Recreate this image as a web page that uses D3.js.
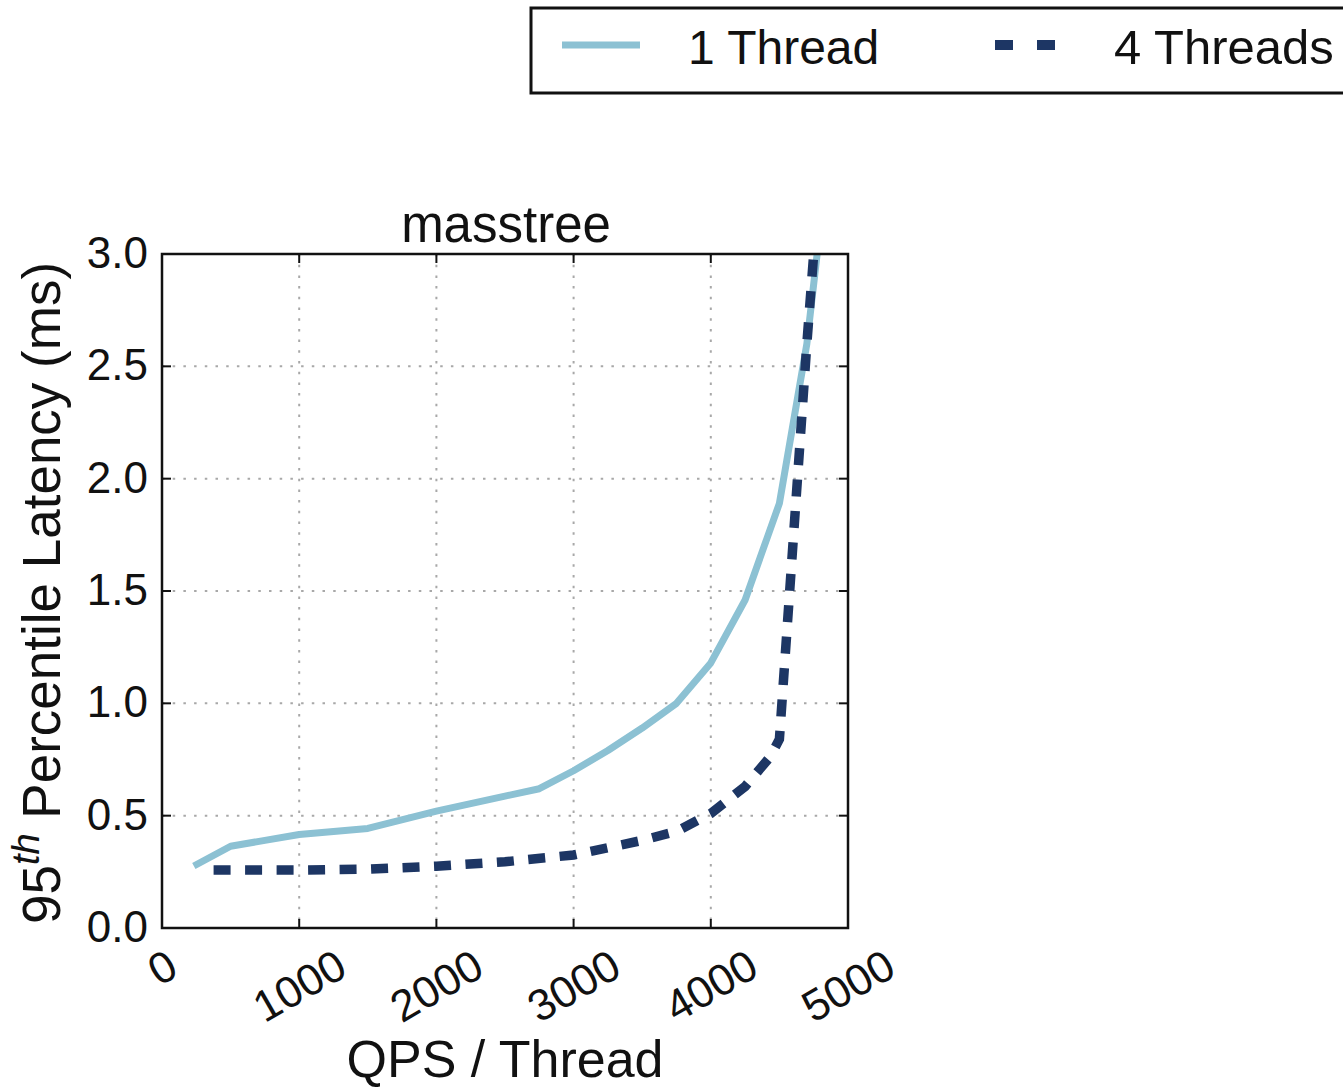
<!DOCTYPE html>
<html>
<head>
<meta charset="utf-8">
<script src="https://cdn.jsdelivr.net/npm/d3@7"></script>
<style>
  html, body { margin: 0; padding: 0; background: #fff; }
  svg { display: block; font-family: "Liberation Sans", Arial, Helvetica, sans-serif; }
</style>
</head>
<body>
<svg id="chart" width="1343" height="1089"></svg>
<script>
// Offered load per thread (QPS) and the 95th percentile latency (ms) it produced
const oneThreadQps     = [232, 500, 750, 1000, 1500, 2000, 2500, 2750, 3000, 3250, 3500, 3750, 4000, 4250, 4500, 4700, 4775];
const oneThreadLatency = [0.276, 0.364, 0.39, 0.416, 0.443, 0.52, 0.587, 0.62, 0.70, 0.79, 0.89, 1.0, 1.18, 1.46, 1.89, 2.6, 3.0];

const fourThreadQps     = [376, 500, 1000, 1500, 2000, 2500, 3000, 3500, 3750, 4000, 4250, 4430, 4500, 4700, 4750];
const fourThreadLatency = [0.258, 0.258, 0.258, 0.262, 0.275, 0.295, 0.325, 0.39, 0.43, 0.51, 0.63, 0.76, 0.84, 2.6, 3.0];

const xTicks = [0, 1000, 2000, 3000, 4000, 5000];
const yTicks = [0.0, 0.5, 1.0, 1.5, 2.0, 2.5, 3.0];

const seriesNames = ["1 Thread", "4 Threads"];
const chartTitle = "masstree";
const xTitle = "QPS / Thread";

const lightBlue = "#8cc1d3";
const navy = "#1d3664";

const svg = d3.select("#chart");
const plot = { left: 162, top: 254, right: 848, bottom: 928 };

const x = d3.scaleLinear().domain([0, 5000]).range([plot.left, plot.right]);
const y = d3.scaleLinear().domain([0, 3.0]).range([plot.bottom, plot.top]);

// clip lines to the axes box
svg.append("defs").append("clipPath").attr("id", "plotClip")
  .append("rect")
  .attr("x", plot.left).attr("y", plot.top)
  .attr("width", plot.right - plot.left).attr("height", plot.bottom - plot.top);

// dotted grid
const grid = svg.append("g").attr("stroke", "#a8a8a8").attr("stroke-width", 2)
  .attr("stroke-dasharray", "2.5,8.2");
grid.selectAll(".gx").data(xTicks.slice(1, -1)).join("line")
  .attr("x1", d => x(d)).attr("x2", d => x(d))
  .attr("y1", plot.top).attr("y2", plot.bottom);
grid.selectAll(".gy").data(yTicks.slice(1, -1)).join("line")
  .attr("y1", d => y(d)).attr("y2", d => y(d))
  .attr("x1", plot.left).attr("x2", plot.right);

// series lines
const line = d3.line().x(d => x(d[0])).y(d => y(d[1]));
const oneThread = oneThreadQps.map((q, i) => [q, oneThreadLatency[i]]);
const fourThreads = fourThreadQps.map((q, i) => [q, fourThreadLatency[i]]);

const lines = svg.append("g").attr("clip-path", "url(#plotClip)").attr("fill", "none");
lines.append("path").datum(oneThread).attr("d", line)
  .attr("stroke", lightBlue).attr("stroke-width", 7).attr("stroke-linejoin", "round");
lines.append("path").datum(fourThreads).attr("d", line)
  .attr("stroke", navy).attr("stroke-width", 9.5).attr("stroke-dasharray", "17,14.5");

// inward ticks on all four sides
const ticks = svg.append("g").attr("stroke", "#111").attr("stroke-width", 2);
const tl = 9;
xTicks.forEach(t => {
  ticks.append("line").attr("x1", x(t)).attr("x2", x(t)).attr("y1", plot.bottom).attr("y2", plot.bottom - tl);
  ticks.append("line").attr("x1", x(t)).attr("x2", x(t)).attr("y1", plot.top).attr("y2", plot.top + tl);
});
yTicks.forEach(t => {
  ticks.append("line").attr("y1", y(t)).attr("y2", y(t)).attr("x1", plot.left).attr("x2", plot.left + tl);
  ticks.append("line").attr("y1", y(t)).attr("y2", y(t)).attr("x1", plot.right).attr("x2", plot.right - tl);
});

// axes frame
svg.append("rect")
  .attr("x", plot.left).attr("y", plot.top)
  .attr("width", plot.right - plot.left).attr("height", plot.bottom - plot.top)
  .attr("fill", "none").attr("stroke", "#111").attr("stroke-width", 2.5);

// y tick labels
const tickFont = 44;
svg.append("g").selectAll("text").data(yTicks).join("text")
  .attr("x", plot.left - 14).attr("y", d => y(d) + 14)
  .attr("text-anchor", "end").attr("font-size", tickFont).attr("fill", "#111")
  .text(d => d3.format(".1f")(d));

// x tick labels rotated 30 degrees, rotated box hanging below the axis
const angle = 30 * Math.PI / 180;
const xLabelTop = plot.bottom + 15;
const xl = svg.append("g");
xTicks.forEach(t => {
  const g = xl.append("g");
  const txt = g.append("text").attr("text-anchor", "middle").attr("dominant-baseline", "central")
    .attr("font-size", tickFont).attr("fill", "#111").text(String(t));
  const w = txt.node().getComputedTextLength();
  const h = tickFont * 0.95;
  const boxH = w * Math.sin(angle) + h * Math.cos(angle);
  g.attr("transform", `translate(${x(t)},${xLabelTop + boxH / 2}) rotate(-30)`);
});

// title and axis titles
svg.append("text").attr("x", (plot.left + plot.right) / 2 + 1).attr("y", 242)
  .attr("text-anchor", "middle").attr("font-size", 51).attr("fill", "#111").text(chartTitle);

svg.append("text").attr("x", (plot.left + plot.right) / 2).attr("y", 1077)
  .attr("text-anchor", "middle").attr("font-size", 52).attr("fill", "#111").text(xTitle);

const yTitle = svg.append("text")
  .attr("transform", `translate(60,${(plot.top + plot.bottom) / 2 + 2}) rotate(-90)`)
  .attr("text-anchor", "middle").attr("font-size", 53).attr("fill", "#111");
yTitle.append("tspan").text("95");
yTitle.append("tspan").attr("font-size", 38).attr("font-style", "italic").attr("dy", -21).text("th");
yTitle.append("tspan").attr("dy", 21).text(" Percentile Latency (ms)");

// legend
const legend = svg.append("g");
legend.append("rect").attr("x", 531).attr("y", 8).attr("width", 900).attr("height", 85)
  .attr("fill", "#fff").attr("stroke", "#111").attr("stroke-width", 3);
legend.append("line").attr("x1", 562).attr("x2", 640).attr("y1", 45).attr("y2", 45)
  .attr("stroke", lightBlue).attr("stroke-width", 7);
legend.append("text").attr("x", 688).attr("y", 64).attr("font-size", 48).attr("fill", "#111").text(seriesNames[0]);
legend.append("line").attr("x1", 995).attr("x2", 1056).attr("y1", 45).attr("y2", 45)
  .attr("stroke", navy).attr("stroke-width", 10).attr("stroke-dasharray", "18,24");
legend.append("text").attr("x", 1114).attr("y", 64).attr("font-size", 49).attr("fill", "#111").text(seriesNames[1]);
</script>
</body>
</html>
